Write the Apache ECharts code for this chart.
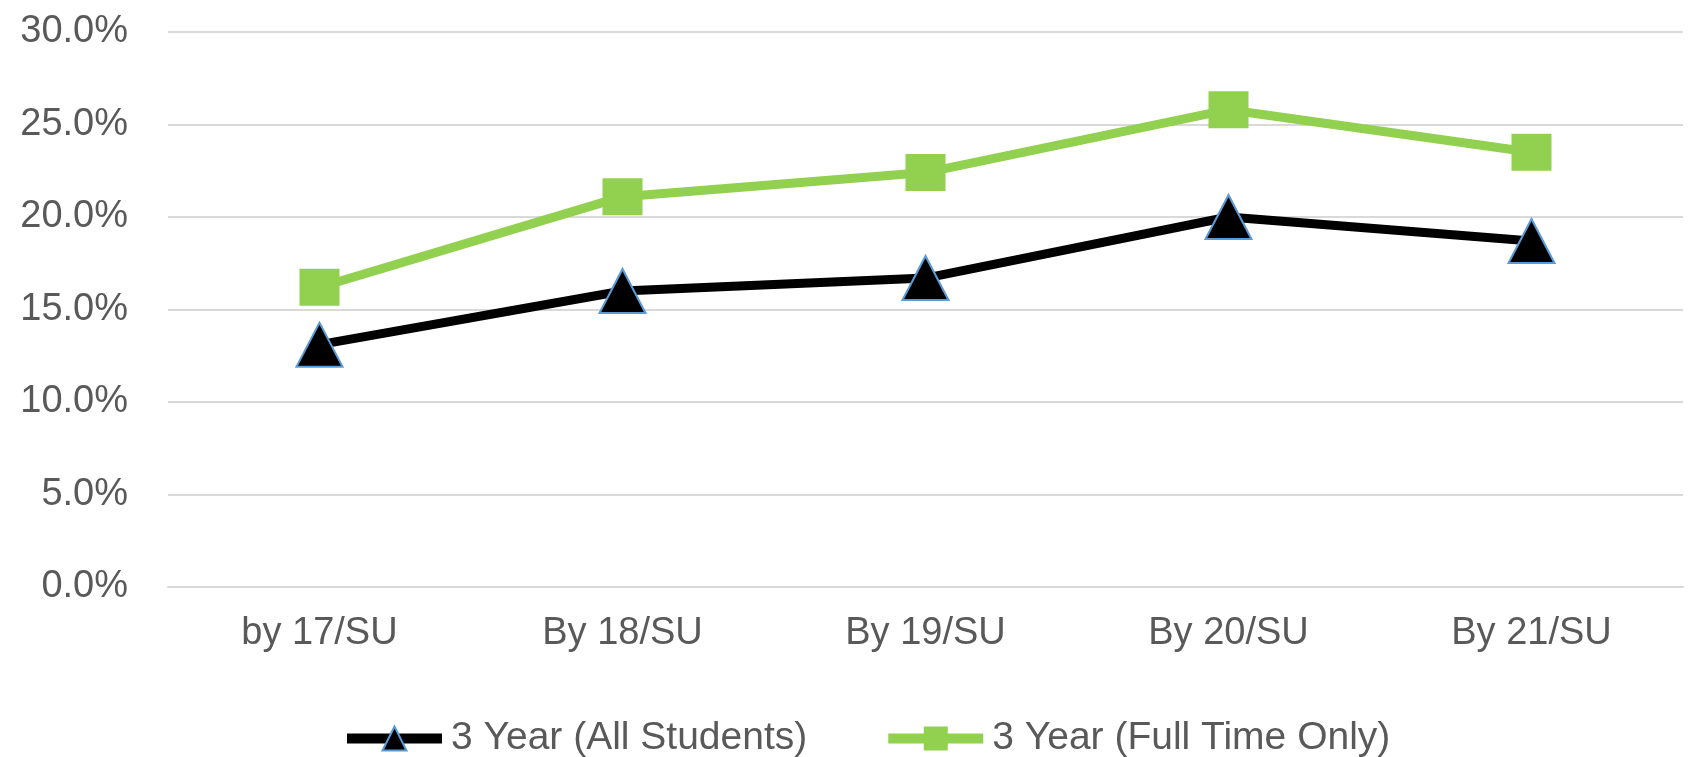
<!DOCTYPE html>
<html>
<head>
<meta charset="utf-8">
<script src="https://cdn.jsdelivr.net/npm/echarts@6/dist/echarts.min.js"></script>
<style>
  html, body { margin: 0; padding: 0; background: #fff; }
  #chart { width: 1691px; height: 757px; }
</style>
</head>
<body>
<div id="chart"></div>
<script>
// categories and values (percent)
const categories = ["by 17/SU", "By 18/SU", "By 19/SU", "By 20/SU", "By 21/SU"];
const allStudents = [13.1, 16.0, 16.7, 20.0, 18.7];
const fullTimeOnly = [16.2, 21.1, 22.4, 25.8, 23.5];
const seriesNames = ["3 Year (All Students)", "3 Year (Full Time Only)"];

const labelColor = "#595959";
const fontFamily = "Liberation Sans, Arial, sans-serif";

const chart = echarts.init(document.getElementById("chart"));
const option = {
    animation: false,
    grid: { left: 168, right: 8, top: 32, bottom: 170, containLabel: false },
    legend: {
        left: 337,
        top: 714,
        itemWidth: 95,
        itemHeight: 30,
        itemGap: 76,
        lineStyle: { width: 10 },
        textStyle: { fontSize: 39, color: labelColor, fontFamily, padding: [0, 0, 0, 4] },
        data: seriesNames
    },
    xAxis: {
        type: "category",
        data: categories,
        axisLine: { show: true, lineStyle: { color: "#d9d9d9", width: 2 } },
        axisTick: { show: false },
        axisLabel: { fontSize: 38, color: labelColor, fontFamily, margin: 28 }
    },
    yAxis: {
        type: "value",
        min: 0,
        max: 30,
        interval: 5,
        axisLine: { show: false },
        axisTick: { show: false },
        splitLine: { lineStyle: { color: "#d9d9d9", width: 2 } },
        axisLabel: {
            fontSize: 38, color: labelColor, fontFamily, margin: 40,
            formatter: v => v.toFixed(1) + "%"
        }
    },
    series: [
        {
            name: seriesNames[0],
            type: "line",
            data: allStudents,
            symbol: "triangle",
            symbolSize: [46, 44],
            lineStyle: { color: "#000", width: 9 },
            itemStyle: { color: "#000", borderColor: "#5b9bd5", borderWidth: 2 },
            z: 3
        },
        {
            name: seriesNames[1],
            type: "line",
            data: fullTimeOnly,
            symbol: "rect",
            symbolSize: [40, 37],
            lineStyle: { color: "#92d050", width: 9 },
            itemStyle: { color: "#92d050" },
            z: 2
        }
    ]
};
chart.setOption(option);
</script>
</body>
</html>
